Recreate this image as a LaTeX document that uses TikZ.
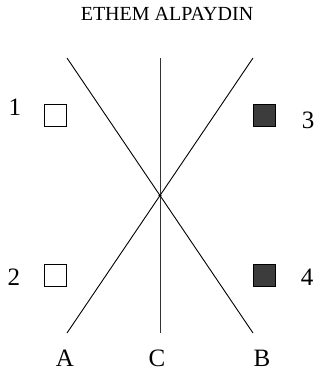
\documentclass[tikz,border=0pt]{standalone}
\usepackage{fontspec}
\setmainfont{Liberation Serif}
\definecolor{boxEmpty}{HTML}{FFFFFF}
\definecolor{boxFull}{HTML}{3C3C3C}

\begin{document}
\begin{tikzpicture}[x=1pt, y=-1pt,
    sample/.style={draw, line width=0.9pt, minimum size=22pt, inner sep=0pt},
    tag/.style={inner sep=0pt, font=\fontsize{25}{28}\selectfont},
    cut/.style={line width=0.9pt}]
  \useasboundingbox (0,0) rectangle (324,373);
  \node[inner sep=0pt, font=\fontsize{20}{24}\selectfont] (title) at (167,14) {ETHEM ALPAYDIN};
  % samples
  \node[sample, fill=boxEmpty] (s1) at (55,115) {};
  \node[sample, fill=boxEmpty] (s2) at (55,275.5) {};
  \node[sample, fill=boxFull] (s3) at (264.5,115) {};
  \node[sample, fill=boxFull] (s4) at (264.5,275.5) {};
  \node[tag] (n1) at (15,107) {1};
  \node[tag] (n2) at (14,277) {2};
  \node[tag] (n3) at (308,120) {3};
  \node[tag] (n4) at (307,277) {4};
  % hyperplanes
  \coordinate (ta) at (67,58);
  \coordinate (tc) at (160,58);
  \coordinate (tb) at (253,58);
  \coordinate (ba) at (67,333);
  \coordinate (bc) at (160,333);
  \coordinate (bb) at (253,333);
  \draw[cut] (ta) -- (bb);
  \draw[cut] (tb) -- (ba);
  \draw[cut, black!80] (tc) -- (bc);
  \fill (160,195.5) circle (1.6pt) coordinate (x);
  \node[tag] (A) at (65,358) {A};
  \node[tag] (C) at (157,358) {C};
  \node[tag] (B) at (262,358) {B};
\end{tikzpicture}
\end{document}
